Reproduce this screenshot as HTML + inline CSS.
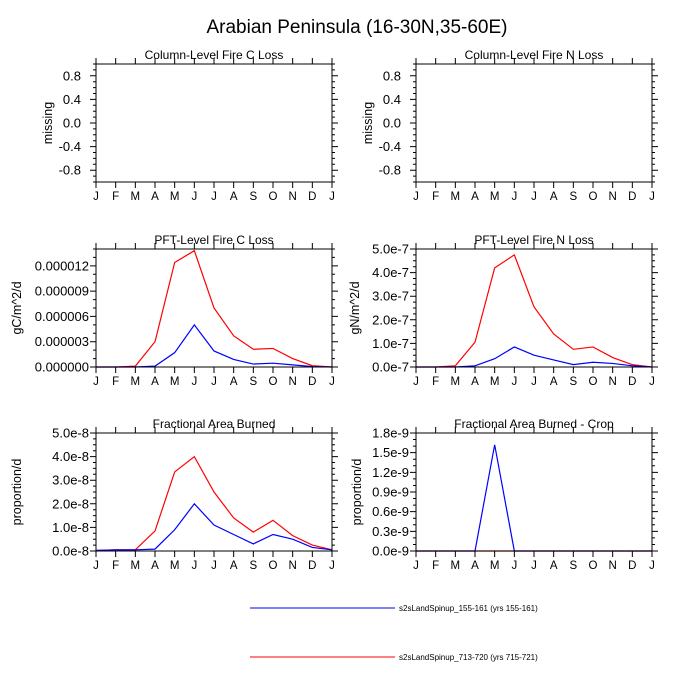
<!DOCTYPE html>
<html><head><meta charset="utf-8"><style>
body{margin:0;background:#fff}
svg{display:block;font-family:"Liberation Sans",sans-serif}
</style></head><body>
<svg id="s" width="700" height="700" viewBox="0 0 700 700">
<text x="357" y="33" font-size="19" text-anchor="middle">Arabian Peninsula (16-30N,35-60E)</text>
<line x1="250" y1="608" x2="395" y2="608" stroke="#00f"/>
<text x="399" y="611" font-size="8">s2sLandSpinup_155-161 (yrs 155-161)</text>
<line x1="250" y1="657" x2="395" y2="657" stroke="#f00"/>
<text x="399" y="660" font-size="8">s2sLandSpinup_713-720 (yrs 715-721)</text>
</svg>
<script>
const months=["J","F","M","A","M","J","J","A","S","O","N","D","J"];
const cRed=[0,0,0.1e-6,3.0e-6,12.4e-6,13.8e-6,7.0e-6,3.7e-6,2.1e-6,2.2e-6,1.0e-6,0.15e-6,0];
const cBlue=[0,0,0,0.1e-6,1.7e-6,5.0e-6,1.9e-6,0.9e-6,0.35e-6,0.45e-6,0.25e-6,0.05e-6,0];
const nRed=[0,0,0.05e-7,1.05e-7,4.2e-7,4.75e-7,2.55e-7,1.4e-7,0.75e-7,0.85e-7,0.4e-7,0.1e-7,0];
const nBlue=[0,0,0,0.05e-7,0.35e-7,0.85e-7,0.5e-7,0.3e-7,0.1e-7,0.2e-7,0.15e-7,0.05e-7,0];
const fRed=[0.02e-8,0.05e-8,0.05e-8,0.85e-8,3.35e-8,4.0e-8,2.5e-8,1.4e-8,0.8e-8,1.3e-8,0.65e-8,0.25e-8,0.05e-8];
const fBlue=[0.02e-8,0.05e-8,0.05e-8,0.08e-8,0.9e-8,2.0e-8,1.1e-8,0.7e-8,0.3e-8,0.7e-8,0.5e-8,0.15e-8,0.05e-8];
const crRed=[0,0,0,0,0,0,0,0,0,0,0,0,0];
const crBlue=[0,0,0,0,1.62e-9,0,0,0,0,0,0,0,0];
const ticksMissing=[0.8,0.4,0.0,-0.4,-0.8];
const labMissing=["0.8","0.4","0.0","-0.4","-0.8"];
const ticksC=[0,3e-6,6e-6,9e-6,12e-6];
const labC=["0.000000","0.000003","0.000006","0.000009","0.000012"];
const ticksN=[0,1e-7,2e-7,3e-7,4e-7,5e-7];
const labN=["0.0e-7","1.0e-7","2.0e-7","3.0e-7","4.0e-7","5.0e-7"];
const ticksF=[0,1e-8,2e-8,3e-8,4e-8,5e-8];
const labF=["0.0e-8","1.0e-8","2.0e-8","3.0e-8","4.0e-8","5.0e-8"];
const ticksCr=[0,0.3e-9,0.6e-9,0.9e-9,1.2e-9,1.5e-9,1.8e-9];
const labCr=["0.0e-9","0.3e-9","0.6e-9","0.9e-9","1.2e-9","1.5e-9","1.8e-9"];

const svg=document.getElementById('s');const NS="http://www.w3.org/2000/svg";
function mk(t,a,p){const e=document.createElementNS(NS,t);for(const k in a)e.setAttribute(k,a[k]);(p||svg).appendChild(e);return e;}
function panel(name,x0,y0,title,ylab,ytOff,labGap,ymin,ymax,ticks,labs,minorStep,series){
 const W=236,H=118,x1=x0+W,y1=y0+H;
 const g=mk('g',{});
 
 
 const xs=i=>x0+i*W/12, ys=v=>y1-(v-ymin)/(ymax-ymin)*H;
 const t=mk('text',{x:x0+W/2,y:y0-5,'font-size':12,'text-anchor':'middle'},g);t.textContent=title;
 
 
 const yl=mk('text',{x:0,y:0,'font-size':12.5,'text-anchor':'middle',transform:`translate(${x0-ytOff+4},${y0+H/2}) rotate(-90)`},g);yl.textContent=ylab;
 
 
 series.forEach(([arr,col])=>{
  const pl=mk('polyline',{points:arr.map((v,i)=>xs(i)+','+ys(v)).join(' '),fill:'none',stroke:col,'stroke-width':1.2},g);
  
  
 });
 const fr=mk('rect',{x:x0,y:y0,width:W,height:H,fill:'none',stroke:'#000','stroke-width':1},g);
 
 
 let d='';
 for(let i=0;i<=12;i++){const x=xs(i);d+=`M${x},${y0}v-6M${x},${y1}v6`;
  const m=mk('text',{x:x,y:y1+18,'font-size':11.5,'text-anchor':'middle'},g);m.textContent=months[i];
  
  }
 ticks.forEach((v,i)=>{const y=ys(v);d+=`M${x0},${y}h-6M${x1},${y}h6`;
  const l=mk('text',{x:x0-labGap,y:y+4.5,'font-size':13,'text-anchor':'end'},g);l.textContent=labs[i];
  
  });
 for(let v=ymin;v<=ymax+1e-20;v+=minorStep){const y=ys(v);d+=`M${x0},${y}h-3M${x1},${y}h3`;}
 const tk=mk('path',{d:d,stroke:'#000','stroke-width':1,fill:'none'},g);
 
 
}
panel('panel-column-c',96,64,'Column-Level Fire C Loss','missing',48,15,-1,1,ticksMissing,labMissing,0.1,[]);
panel('panel-column-n',416,64,'Column-Level Fire N Loss','missing',48,15,-1,1,ticksMissing,labMissing,0.1,[]);
panel('panel-pft-c',96,249,'PFT-Level Fire C Loss','gC/m^2/d',79,7,0,14e-6,ticksC,labC,1e-6,[[cRed,'#f00'],[cBlue,'#00f']]);
panel('panel-pft-n',416,249,'PFT-Level Fire N Loss','gN/m^2/d',61,7,0,5e-7,ticksN,labN,0.25e-7,[[nRed,'#f00'],[nBlue,'#00f']]);
panel('panel-frac-area',96,433,'Fractional Area Burned','proportion/d',79,7,0,5e-8,ticksF,labF,0.25e-8,[[fRed,'#f00'],[fBlue,'#00f']]);
panel('panel-frac-area-crop',416,433,'Fractional Area Burned - Crop','proportion/d',59,7,0,1.8e-9,ticksCr,labCr,0.1e-9,[[crRed,'#f00'],[crBlue,'#00f']]);
</script>
</body></html>
